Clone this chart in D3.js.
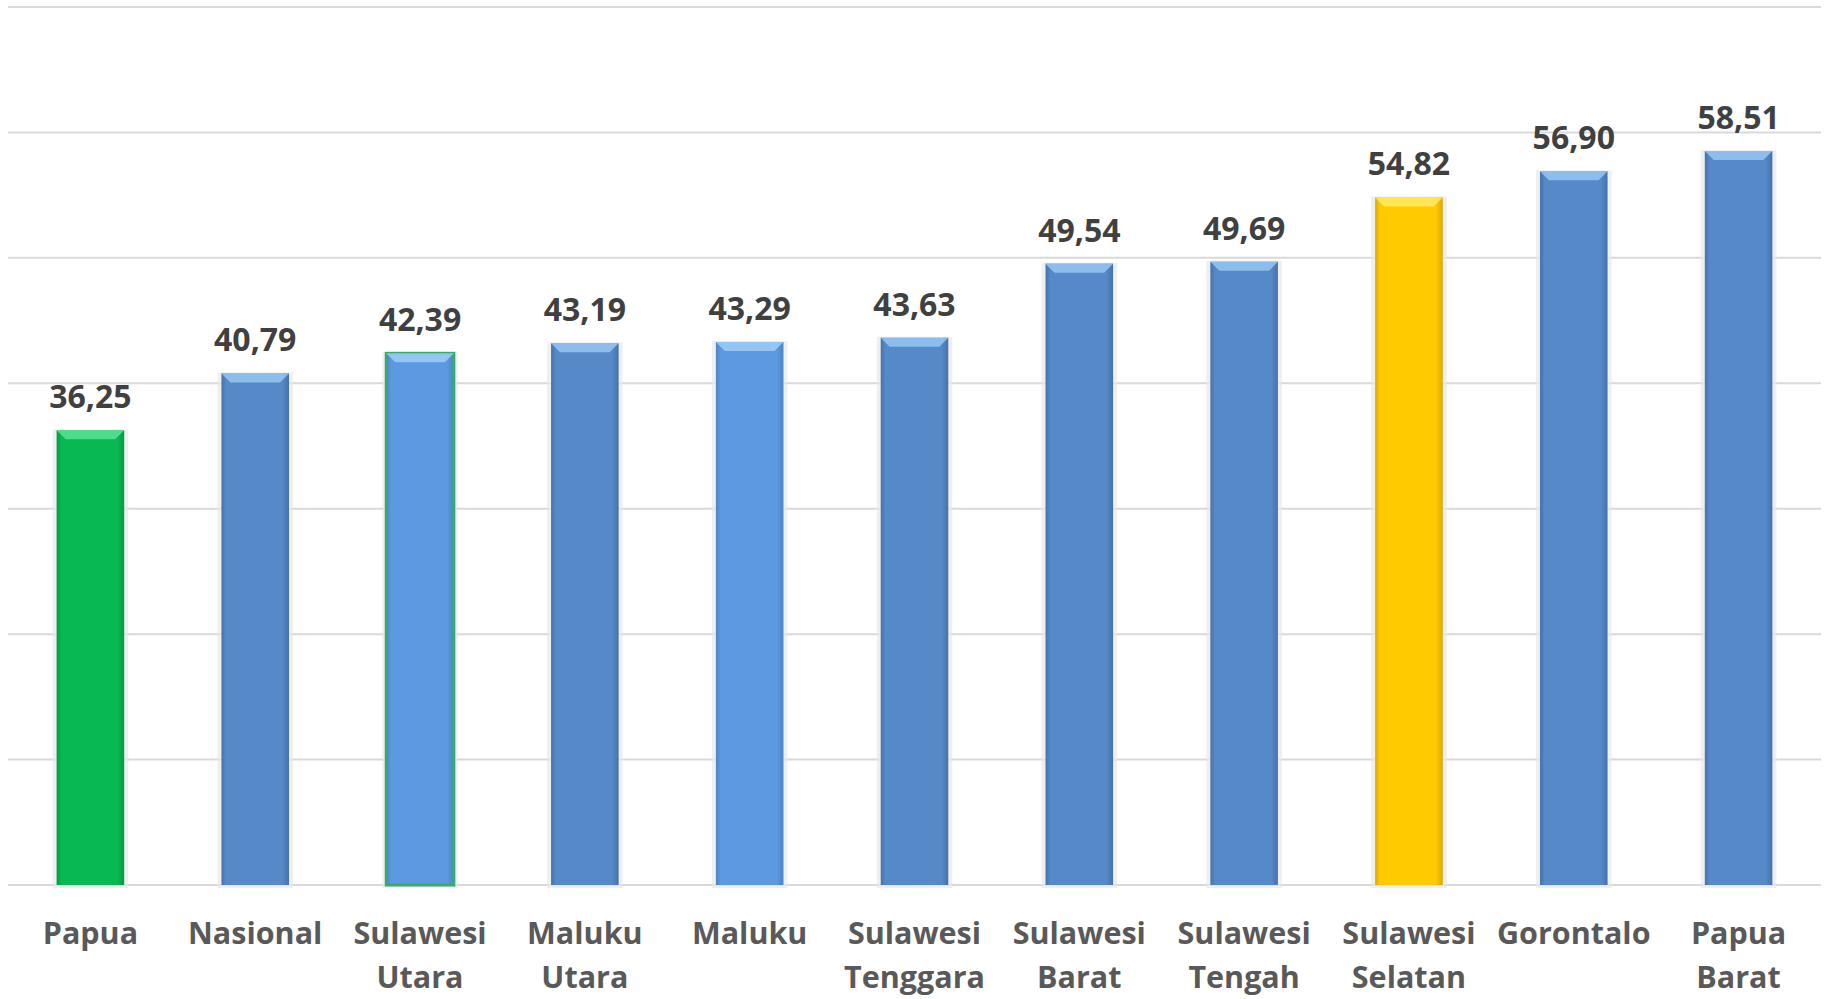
<!DOCTYPE html>
<html>
<head>
<meta charset="utf-8">
<script src="https://cdn.jsdelivr.net/npm/d3@7"></script>
<style>
  body { margin: 0; background: #fff; }
  svg { display: block; font-family: "Open Sans", sans-serif; }
</style>
</head>
<body>
<div id="chart"></div>
<script>
const categories = ["Papua", "Nasional", "Sulawesi Utara", "Maluku Utara", "Maluku", "Sulawesi Tenggara",
    "Sulawesi Barat", "Sulawesi Tengah", "Sulawesi Selatan", "Gorontalo", "Papua Barat"];
const values = [36.25, 40.79, 42.39, 43.19, 43.29, 43.63, 49.54, 49.69, 54.82, 56.90, 58.51];
const barColors = ["green", "blue", "light", "blue", "light", "blue", "blue", "blue", "yellow", "blue", "blue"];
const yTicks = [0, 10, 20, 30, 40, 50, 60, 70];

const width = 1825, height = 999;
const margin = { top: 7, right: 4, bottom: 114, left: 8 };

const palette = {
    green:  { mid: "#07b853", edge: "#069a45", top: "#5fe597" },
    blue:   { mid: "#5689c8", edge: "#4672aa", top: "#9acaf5" },
    light:  { mid: "#5c99e1", edge: "#4c84c6", top: "#a4d0f8" },
    yellow: { mid: "#ffca00", edge: "#d9a800", top: "#ffec6a" }
};

const svg = d3.select("#chart").append("svg")
    .attr("width", width)
    .attr("height", height);

const defs = svg.append("defs");
Object.entries(palette).forEach(([k, c]) => {
    const g = defs.append("linearGradient").attr("id", "grad-" + k)
        .attr("x1", "0").attr("x2", "1").attr("y1", "0").attr("y2", "0");
    g.append("stop").attr("offset", "0").attr("stop-color", c.edge);
    g.append("stop").attr("offset", "0.07").attr("stop-color", c.mid);
    g.append("stop").attr("offset", "0.9").attr("stop-color", c.mid);
    g.append("stop").attr("offset", "1").attr("stop-color", c.edge);
});

const x = d3.scaleBand()
    .domain(categories)
    .range([margin.left, width - margin.right])
    .paddingInner(0.59)
    .paddingOuter(0.295);

const y = d3.scaleLinear()
    .domain([0, 70])
    .range([height - margin.bottom, margin.top]);

// gridlines
svg.append("g")
    .selectAll("line")
    .data(yTicks)
    .join("line")
    .attr("x1", margin.left)
    .attr("x2", width - margin.right)
    .attr("y1", d => y(d))
    .attr("y2", d => y(d))
    .attr("stroke", "#d9d9d9")
    .attr("stroke-width", 2);

const bars = svg.append("g")
    .selectAll("g")
    .data(categories.map((c, i) => ({ name: c, value: values[i], color: barColors[i] })))
    .join("g");

// soft shadow around bar
bars.append("rect")
    .attr("x", d => x(d.name) - 4)
    .attr("y", d => y(d.value) - 1)
    .attr("width", x.bandwidth() + 8)
    .attr("height", d => y(0) - y(d.value) + 4)
    .attr("fill", "#e8e8e8")
    .attr("opacity", 0.7);

bars.append("rect")
    .attr("x", d => x(d.name))
    .attr("y", d => y(d.value))
    .attr("width", x.bandwidth())
    .attr("height", d => y(0) - y(d.value))
    .attr("fill", d => `url(#grad-${d.color})`)
    .attr("stroke", d => d.name === "Sulawesi Utara" ? "#3aa872" : "none")
    .attr("stroke-width", 3);

// top bevel
bars.append("path")
    .attr("d", d => {
        const x0 = x(d.name), x1 = x0 + x.bandwidth(), t = y(d.value), b = 9;
        return `M${x0},${t}L${x1},${t}L${x1 - b},${t + b}L${x0 + b},${t + b}Z`;
    })
    .attr("fill", d => palette[d.color].top)
    .attr("opacity", 0.8);

// value labels
bars.append("text")
    .attr("x", d => x(d.name) + x.bandwidth() / 2)
    .attr("y", d => y(d.value) - 22)
    .attr("text-anchor", "middle")
    .attr("font-size", 32)
    .attr("font-weight", 700)
    .attr("fill", "#404040")
    .text(d => d.value.toFixed(2).replace(".", ","));

// category labels
const labels = svg.append("g")
    .selectAll("text")
    .data(categories)
    .join("text")
    .attr("x", d => x(d) + x.bandwidth() / 2)
    .attr("y", 944)
    .attr("text-anchor", "middle")
    .attr("font-size", 30.5)
    .attr("font-weight", 700)
    .attr("fill", "#595959");

labels.each(function(d) {
    const words = d.split(" ");
    const t = d3.select(this);
    words.forEach((w, i) => {
        t.append("tspan")
            .attr("x", x(d) + x.bandwidth() / 2)
            .attr("dy", i === 0 ? 0 : 44)
            .text(w);
    });
});
</script>
</body>
</html>
